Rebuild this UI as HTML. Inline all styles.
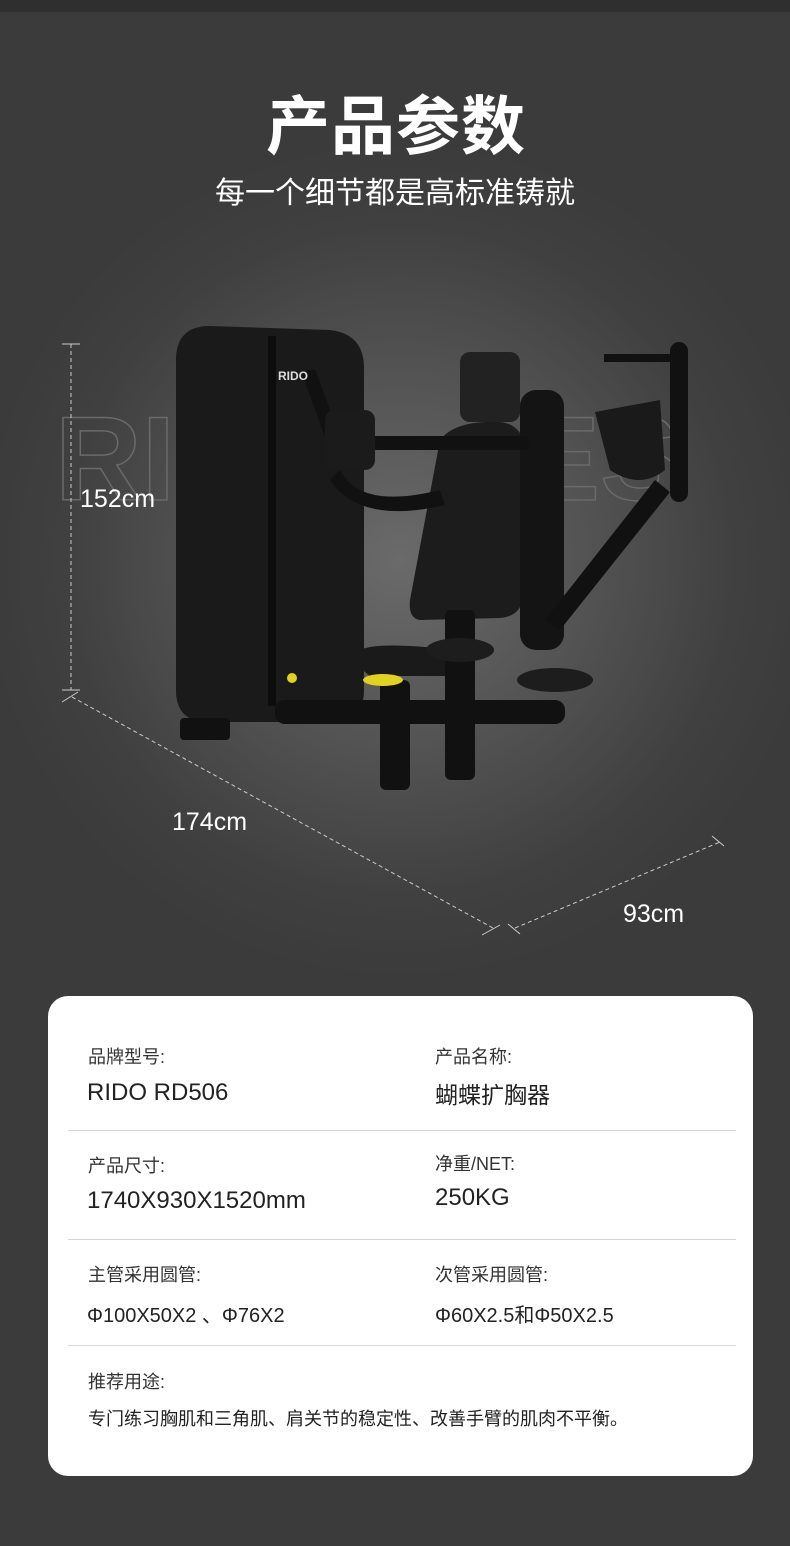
<!DOCTYPE html>
<html><head><meta charset="utf-8"><style>
body{margin:0;width:790px;height:1546px;overflow:hidden;position:relative;font-family:"Liberation Sans","Noto Sans CJK SC",sans-serif;
background:radial-gradient(ellipse 420px 420px at 400px 560px,#6a6a6a 0%,#535353 45%,#404040 80%,#3b3b3b 100%);}
.top{position:absolute;left:0;top:0;width:790px;height:12px;background:#2f2f2f}
.t{position:absolute;color:#fff;white-space:nowrap}
.card{position:absolute;left:48px;top:996px;width:705px;height:480px;background:#fff;border-radius:20px}
.l{position:absolute;font-size:18px;color:#333;white-space:nowrap}
.v{position:absolute;font-size:24px;color:#222;white-space:nowrap}
.hr{position:absolute;left:20px;width:668px;height:1px;background:#d6d6d6}
</style></head><body>
<div class="top"></div>
<div class="t" style="left:266px;top:76px;font-size:64px;font-weight:bold;letter-spacing:1px">产品参数</div>
<div class="t" style="left:215px;top:168px;font-size:30px">每一个细节都是高标准铸就</div>
<svg width="790" height="990" style="position:absolute;left:0;top:0">
<text x="55" y="500" font-size="120" font-weight="bold" fill="none" stroke="#6a6a6a" stroke-width="1.5" font-family="Liberation Sans">RIDO</text>
<text x="520" y="500" font-size="120" font-weight="bold" fill="none" stroke="#6a6a6a" stroke-width="1.5" font-family="Liberation Sans">ES</text>
<g stroke="#ccc" stroke-width="1" fill="none">
<line x1="71" y1="344" x2="71" y2="690" stroke-dasharray="4 3"/>
<line x1="62" y1="344" x2="80" y2="344"/><line x1="62" y1="690" x2="80" y2="690"/>
<line x1="72" y1="697" x2="493" y2="928" stroke-dasharray="4 3"/>
<line x1="62" y1="702" x2="78" y2="692"/><line x1="482" y1="935" x2="500" y2="925"/>
<line x1="515" y1="928" x2="720" y2="842" stroke-dasharray="4 3"/>
<line x1="508" y1="924" x2="520" y2="934"/><line x1="712" y1="836" x2="724" y2="846"/>
</g>
<g fill="#111">
<path d="M176 360 Q176 326 210 326 L330 330 Q364 334 364 368 L364 690 Q364 722 332 722 L208 722 Q176 722 176 690Z" fill="#1a1a1a"/>
<rect x="268" y="336" width="8" height="370" fill="#0c0c0c"/>
<rect x="180" y="718" width="50" height="22" rx="4"/>
<rect x="460" y="352" width="60" height="70" rx="10" fill="#222"/>
<path d="M440 440 Q455 420 500 422 Q530 425 526 470 L522 600 Q520 616 500 618 L420 620 Q408 618 410 600Z" fill="#1c1c1c"/>
<rect x="520" y="390" width="44" height="260" rx="16" fill="#141414"/>
<rect x="350" y="436" width="180" height="14" rx="7"/>
<path d="M595 412 L660 400 L665 470 Q640 490 610 470Z" fill="#1a1a1a"/>
<rect x="670" y="342" width="18" height="160" rx="9"/>
<rect x="604" y="354" width="66" height="8"/>
<path d="M655 480 L545 620 L560 630 L670 492Z"/>
<rect x="312" y="368" width="14" height="80" rx="5" transform="rotate(-20 320 400)"/>
<rect x="325" y="410" width="50" height="60" rx="10" fill="#1b1b1b"/>
<path d="M340 470 Q360 510 440 490 L445 505 Q360 525 330 480Z"/>
<path d="M360 650 Q380 640 470 652 Q480 668 470 676 L370 676 Q355 666 360 650Z" fill="#1a1a1a"/>
<rect x="380" y="680" width="30" height="110" rx="6"/>
<rect x="445" y="610" width="30" height="170" rx="6"/>
<rect x="275" y="700" width="290" height="24" rx="10"/>
<ellipse cx="555" cy="680" rx="38" ry="12" fill="#1d1d1d"/>
<ellipse cx="460" cy="650" rx="34" ry="12" fill="#1d1d1d"/>
<ellipse cx="383" cy="680" rx="20" ry="6" fill="#e0d21e"/>
<circle cx="292" cy="678" r="5" fill="#e0d21e"/>
</g>
<text x="278" y="380" font-size="12" font-weight="bold" fill="#ddd" font-family="Liberation Sans">RIDO</text>
<g font-family="Liberation Sans" font-size="25" fill="#fff">
<text x="80" y="507">152cm</text><text x="172" y="830">174cm</text><text x="623" y="922">93cm</text>
</g>
</svg>
<div class="card">
<div class="l" style="left:40px;top:47px">品牌型号:</div>
<div class="v" style="left:39px;top:83px">RIDO RD506</div>
<div class="l" style="left:387px;top:47px">产品名称:</div>
<div class="v" style="left:387px;top:80px;font-size:23px">蝴蝶扩胸器</div>
<div class="hr" style="top:134px"></div>
<div class="l" style="left:40px;top:156px">产品尺寸:</div>
<div class="v" style="left:39px;top:191px">1740X930X1520mm</div>
<div class="l" style="left:387px;top:154px">净重/NET:</div>
<div class="v" style="left:387px;top:188px">250KG</div>
<div class="hr" style="top:243px"></div>
<div class="l" style="left:40px;top:265px">主管采用圆管:</div>
<div class="v" style="left:39px;top:303px;font-size:20px">Φ100X50X2 、Φ76X2</div>
<div class="l" style="left:387px;top:265px">次管采用圆管:</div>
<div class="v" style="left:387px;top:303px;font-size:20px">Φ60X2.5和Φ50X2.5</div>
<div class="hr" style="top:349px"></div>
<div class="l" style="left:40px;top:372px">推荐用途:</div>
<div class="l" style="left:40px;top:409px;color:#222">专门练习胸肌和三角肌、肩关节的稳定性、改善手臂的肌肉不平衡。</div>
</div>
</body></html>
